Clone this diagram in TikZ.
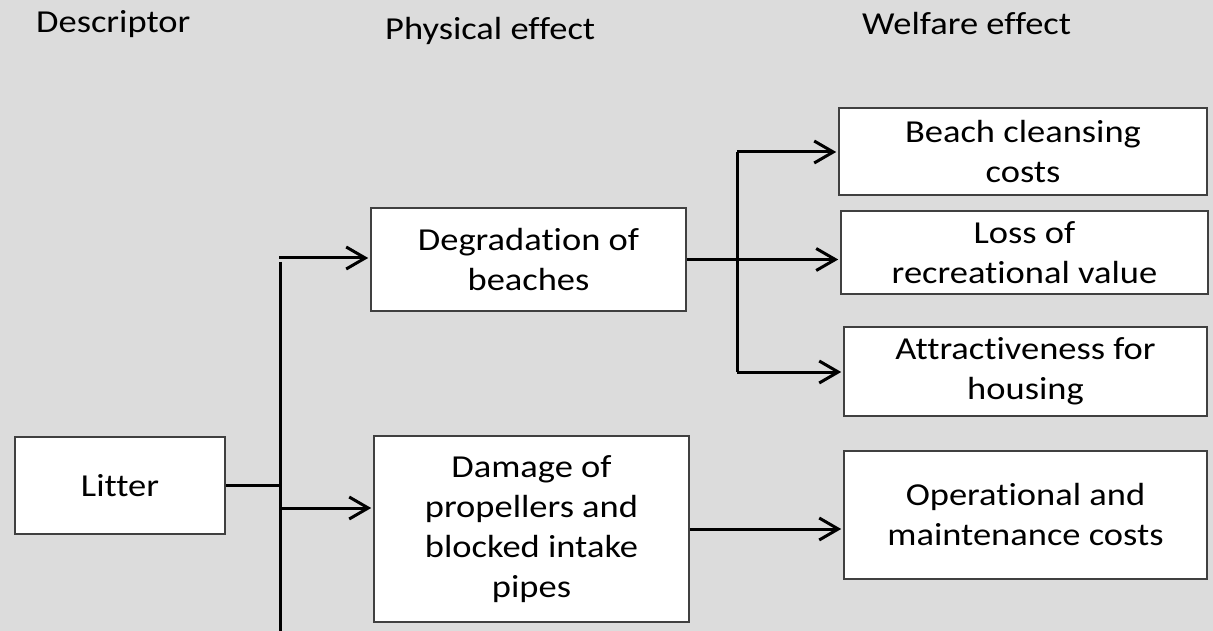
\documentclass[tikz,border=0pt]{standalone}
\usepackage{fontspec}
\setmainfont{Carlito}[FakeStretch=1.14, Ligatures=NoCommon]
\usetikzlibrary{arrows.meta}
\definecolor{bg}{RGB}{220,220,220}
\definecolor{edgegray}{RGB}{64,64,64}
\begin{document}
\begin{tikzpicture}[x=1pt,y=-1pt,
  box/.style={draw=edgegray, line width=1.6pt, fill=white, inner sep=0pt, align=center,
              font=\fontsize{32}{40}\selectfont},
  conn/.style={line width=3pt, black},
  arr/.style={conn, shorten >=2pt, -{Straight Barb[length=19pt,width=22pt,line width=3pt]}},
  hdr/.style={anchor=base west, inner sep=0pt, font=\fontsize{32}{40}\selectfont}]
\fill[bg] (0,0) rectangle (1213,631);
\useasboundingbox (0,0) rectangle (1213,631);

% headers
\node[hdr] (h1) at (36,33) {Descriptor};
\node[hdr] (h2) at (385,40) {Physical effect};
\node[hdr] (h3) at (862,35) {Welfare effect};

% boxes
\node[box, minimum width=210pt, minimum height=97pt] (litter) at (120,485.5) {Litter};
\node[box, minimum width=315pt, minimum height=103pt] (degr) at (528.5,259.5) {Degradation of\\beaches};
\node[box, minimum width=315pt, minimum height=186pt] (dam) at (531.5,529) {Damage of\\propellers and\\blocked intake\\pipes};
\node[box, minimum width=368pt, minimum height=87pt] (beach) at (1023,151.5) {Beach cleansing\\costs};
\node[box, minimum width=367pt, minimum height=83pt] (loss) at (1024.5,252.5) {Loss of\\recreational value};
\node[box, minimum width=363pt, minimum height=89pt] (attr) at (1025.5,371.5) {Attractiveness  for\\housing};
\node[box, minimum width=363pt, minimum height=128pt] (oper) at (1025.5,515) {Operational and\\maintenance costs};

% left trunk
\coordinate (vtop) at (280,262);
\coordinate (vbot) at (280,631);
\coordinate (a1) at (279,258);
\coordinate (a2) at (279,508);
\draw[conn] (vtop) -- (vbot);
\draw[conn] (litter.east) -- (litter.east -| vtop);
\draw[arr] (a1) -- (a1 -| degr.west);
\draw[arr] (a2) -- (a2 -| dam.west);

% right branch
\coordinate (btop) at (737,152);
\coordinate (bbot) at (737,372);
\draw[conn] (btop) -- (bbot);
\draw[arr] (degr.east) -- (degr.east -| loss.west);
\draw[arr] (btop) -- (btop -| beach.west);
\draw[arr] (bbot) -- (bbot -| attr.west);
\draw[arr] (dam.east) -- (dam.east -| oper.west);
\end{tikzpicture}
\end{document}
